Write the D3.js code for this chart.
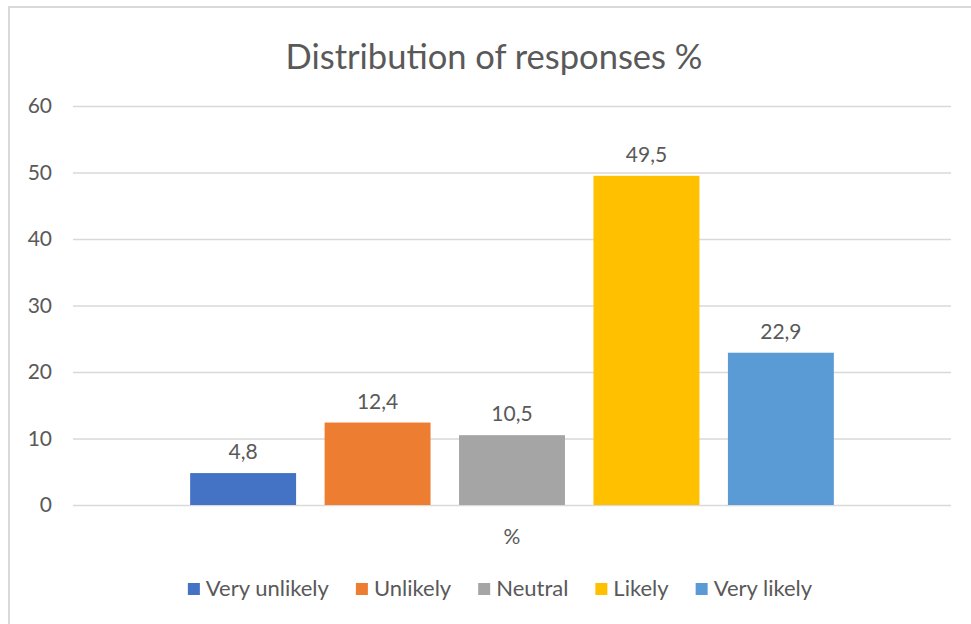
<!DOCTYPE html>
<html>
<head>
<meta charset="utf-8">
<script src="https://cdn.jsdelivr.net/npm/d3@7"></script>
<style>
  body { margin: 0; background: #fff; }
  text { font-family: Lato, "Open Sans", sans-serif; fill: #595959; }
</style>
</head>
<body>
<div class="chart"></div>
<script>

// chart data
var categories = ["%"];
var seriesNames = ["Very unlikely", "Unlikely", "Neutral", "Likely", "Very likely"];
var seriesValues = [4.8, 12.4, 10.5, 49.5, 22.9];
var seriesColors = ["#4472C4", "#ED7D31", "#A5A5A5", "#FFC000", "#5B9BD5"];
var yTicks = [0, 10, 20, 30, 40, 50, 60];
var chartTitle = "Distribution of responses %";

var svgWidth = 971;
var svgHeight = 624;

var margin = { top: 106, right: 20, bottom: 119, left: 73 };
var width = 878;
var height = svgHeight - margin.top - margin.bottom;

var svg = d3.select(".chart")
  .append("svg")
  .attr("width", svgWidth)
  .attr("height", svgHeight);

svg.append("rect")
  .attr("width", svgWidth)
  .attr("height", svgHeight)
  .attr("fill", "#fff");

// chart border (cut off on right and bottom)
svg.append("rect")
  .attr("x", 9)
  .attr("y", 7)
  .attr("width", svgWidth + 20)
  .attr("height", svgHeight + 20)
  .attr("fill", "none")
  .attr("stroke", "#d9d9d9")
  .attr("stroke-width", 2);

// title
svg.append("text")
  .attr("x", 494)
  .attr("y", 69)
  .attr("text-anchor", "middle")
  .style("font-size", "34.5px")
  .text(chartTitle);

var chartGroup = svg.append("g")
  .attr("transform", `translate(${margin.left}, ${margin.top})`);

// scales
var x0 = d3.scaleBand()
  .domain(categories)
  .range([0, width])
  .paddingInner(0)
  .paddingOuter(0.182);

var x1 = d3.scaleBand()
  .domain(seriesNames)
  .range([0, x0.bandwidth()])
  .paddingInner(0.212);

var yLinearScale = d3.scaleLinear()
  .domain([0, 60])
  .range([height, 0]);

// gridlines + y labels
var leftAxis = d3.axisLeft(yLinearScale)
  .tickValues(yTicks)
  .tickSize(-width)
  .tickPadding(21);

var yAxis = chartGroup.append("g").call(leftAxis);
yAxis.select(".domain").remove();
yAxis.selectAll("line")
  .attr("stroke", "#d9d9d9")
  .attr("stroke-width", 1.6);
yAxis.selectAll("text")
  .style("font-size", "21px")
  .style("font-family", "Lato, sans-serif")
  .attr("fill", "#595959");

// x axis label
var bottomAxis = d3.axisBottom(x0)
  .tickSize(0)
  .tickPadding(24);

var xAxis = chartGroup.append("g")
  .attr("transform", `translate(0, ${height})`)
  .call(bottomAxis);
xAxis.select(".domain").remove();
xAxis.selectAll("text")
  .style("font-size", "21px")
  .style("font-family", "Lato, sans-serif")
  .attr("fill", "#595959");

// bars
var barData = seriesNames.map(function(name, i) {
  return { category: categories[0], name: name, value: seriesValues[i], color: seriesColors[i] };
});

var locale = d3.formatLocale({ decimal: ",", thousands: ".", grouping: [3], currency: ["", ""] });
var fmt = locale.format(".1f");

var barGroup = chartGroup.append("g")
  .attr("transform", `translate(${x0(categories[0])}, 0)`);

barGroup.selectAll("rect")
  .data(barData)
  .enter()
  .append("rect")
  .attr("x", d => x1(d.name))
  .attr("y", d => yLinearScale(d.value))
  .attr("width", x1.bandwidth())
  .attr("height", d => height - yLinearScale(d.value))
  .attr("fill", d => d.color);

barGroup.selectAll(".bar-label")
  .data(barData)
  .enter()
  .append("text")
  .attr("class", "bar-label")
  .attr("x", d => x1(d.name) + x1.bandwidth() / 2)
  .attr("y", d => yLinearScale(d.value) - 14)
  .attr("text-anchor", "middle")
  .style("font-size", "21px")
  .text(d => fmt(d.value));

// legend
var legend = svg.append("g");
var items = legend.selectAll("g")
  .data(barData)
  .enter()
  .append("g");

items.append("rect")
  .attr("width", 12)
  .attr("height", 12)
  .attr("y", 583)
  .attr("fill", d => d.color);

items.append("text")
  .attr("x", 18)
  .attr("y", 596)
  .style("font-size", "22px")
  .text(d => d.name);

var pos = 0;
var itemX = [];
items.each(function() {
  var w = d3.select(this).select("text").node().getComputedTextLength();
  itemX.push(pos);
  pos += 18 + w + 27;
});
var legendWidth = pos - 27;
var legendStart = 500 - legendWidth / 2;
items.attr("transform", (d, i) => `translate(${legendStart + itemX[i]}, 0)`);

</script>
</body>
</html>
